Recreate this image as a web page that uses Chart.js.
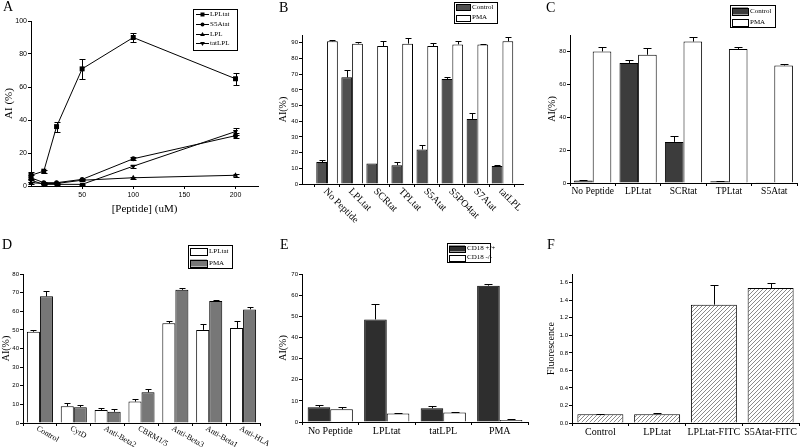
<!DOCTYPE html>
<html>
<head>
<meta charset="utf-8">
<script src="https://cdn.jsdelivr.net/npm/chart.js@4.4.0/dist/chart.umd.min.js"></script>
<style>
  html, body { margin: 0; padding: 0; background: #fff; }
  #wrap { position: relative; width: 800px; height: 447px; overflow: hidden; }
  #wrap canvas { position: absolute; left: 0; top: 0; }
  .tag { position: absolute; font-family: "Liberation Serif", serif; font-size: 14px; line-height: 14px; color: #000; }
</style>
</head>
<body>
<div id="wrap">
  <canvas id="cA" width="800" height="447"></canvas>
  <canvas id="cB" width="800" height="447"></canvas>
  <canvas id="cC" width="800" height="447"></canvas>
  <canvas id="cD" width="800" height="447"></canvas>
  <canvas id="cE" width="800" height="447"></canvas>
  <canvas id="cF" width="800" height="447"></canvas>
  <div class="tag" style="left:3px;top:0px">A</div>
  <div class="tag" style="left:279px;top:1px">B</div>
  <div class="tag" style="left:546px;top:1px">C</div>
  <div class="tag" style="left:2px;top:238px">D</div>
  <div class="tag" style="left:280px;top:238px">E</div>
  <div class="tag" style="left:547px;top:238px">F</div>
</div>
<script>
const SERIF = '"Liberation Serif", "Times New Roman", serif';
const SANS = '"Liberation Sans", Arial, sans-serif';

// Panel A - dose response
const doseUM = [0, 12.5, 25, 50, 100, 200];
const lplTatA = [6.5, 9, 36, 71, 90, 65];
const lplTatAErr = [2, 1, 3, 6, 3, 3.5];
const s5AtatA = [5, 2, 2, 4, 16.5, 30.5];
const s5AtatAErr = [1.5, 0.5, 0.5, 0.5, 0.8, 1.5];
const lplA = [2, 1.5, 1.5, 3.5, 5, 6.5];
const lplAErr = [0.5, 0.3, 0.3, 0.5, 0.5, 1];
const tatLplA = [3.5, 1, 1, 1, 12, 33];
const tatLplAErr = [1, 0.3, 0.3, 0.3, 1, 2];
const aYTicks = [0, 20, 40, 60, 80, 100];
const aXTicks = [50, 100, 150, 200];

// Panel B
const bLabels = ["No Peptide", "LPLtat", "SCRtat", "TPLtat", "S5Atat", "S5PO4tat", "S7Atat", "tatLPL"];
const bControl = [14, 68, 13, 12, 22, 67, 41.5, 11.5];
const bControlErr = [1.5, 5, 0, 2, 3, 1.5, 4, 0.5];
const bPMA = [91, 89.5, 88, 89.5, 88, 89, 89, 91];
const bPMAErr = [0.5, 1, 3, 3.5, 2, 2, 0.5, 2.5];
const bYTicks = [0, 10, 20, 30, 40, 50, 60, 70, 80, 90];

// Panel C
const cLabels = ["No Peptide", "LPLtat", "SCRtat", "TPLtat", "S5Atat"];
const cControl = [1.5, 73, 25, 1, 0.5];
const cControlErr = [0.5, 1.5, 3.5, 0.5, 0];
const cPMA = [80, 78, 86, 81.5, 71.5];
const cPMAErr = [2.5, 4, 3, 1.5, 1];
const cYTicks = [0, 20, 40, 60, 80];

// Panel D
const dLabels = ["Control", "CytD", "Anti-Beta2", "CBRM1/5", "Anti-Beta3", "Anti-Beta1", "Anti-HLA"];
const dLPLtat = [49, 9, 7, 11.5, 53.5, 50, 51];
const dLPLtatErr = [1, 2, 1, 1.5, 1, 3, 3.5];
const dPMA = [68, 8.5, 6, 16.5, 71.5, 65.5, 61];
const dPMAErr = [3, 1, 1.5, 1.5, 1, 0.3, 1.5];
const dYTicks = [0, 10, 20, 30, 40, 50, 60, 70, 80];

// Panel E
const eLabels = ["No Peptide", "LPLtat", "tatLPL", "PMA"];
const eWT = [7, 48.5, 6.5, 64.5];
const eWTErr = [1, 7.5, 1.2, 0.8];
const eKO = [6, 4, 4.5, 1];
const eKOErr = [1, 0.3, 0.3, 0.3];
const eYTicks = [0, 10, 20, 30, 40, 50, 60, 70];

// Panel F
const fLabels = ["Control", "LPLtat", "LPLtat-FITC", "S5Atat-FITC"];
const fValues = [0.1, 0.1, 1.35, 1.54];
const fErr = [0.005, 0.01, 0.22, 0.06];
const fYTicks = [0, 0.2, 0.4, 0.6, 0.8, 1.0, 1.2, 1.4, 1.6];

Chart.defaults.color = "#000";
Chart.defaults.font.family = SERIF;

function drawMarker(ctx, style, rot, x, y, r) {
    ctx.beginPath();
    if (style === "rect") {
        ctx.rect(x - r, y - r, 2 * r, 2 * r);
    } else if (style === "circle") {
        ctx.arc(x, y, r, 0, Math.PI * 2);
    } else {
        const s = rot ? -1 : 1;
        ctx.moveTo(x, y - s * r * 1.2);
        ctx.lineTo(x + r * 1.2, y + s * r * 0.8);
        ctx.lineTo(x - r * 1.2, y + s * r * 0.8);
        ctx.closePath();
    }
    ctx.fillStyle = "#000";
    ctx.fill();
}

// error bars from each dataset's "errors" array
const errorBars = {
    id: "errorBars",
    afterDatasetsDraw(chart, args, o) {
        const ctx = chart.ctx;
        const ys = chart.scales.y;
        ctx.save();
        ctx.strokeStyle = "#000";
        ctx.lineWidth = 1;
        chart.data.datasets.forEach((ds, di) => {
            if (!ds.errors) return;
            const meta = chart.getDatasetMeta(di);
            meta.data.forEach((el, i) => {
                const e = ds.errors[i];
                if (!e) return;
                const v = meta.controller.getParsed(i).y;
                const x = Math.round(el.x) + 0.5;
                const top = Math.round(ys.getPixelForValue(v + e)) + 0.5;
                const bot = o.both ? Math.round(ys.getPixelForValue(v - e)) + 0.5 : el.y;
                ctx.beginPath();
                ctx.moveTo(x, bot);
                ctx.lineTo(x, top);
                ctx.moveTo(x - o.cap, top);
                ctx.lineTo(x + o.cap, top);
                if (o.both) {
                    ctx.moveTo(x - o.cap, bot);
                    ctx.lineTo(x + o.cap, bot);
                }
                ctx.stroke();
            });
        });
        ctx.restore();
    }
};

// framed legend like the original plots
const boxLegend = {
    id: "boxLegend",
    afterDraw(chart, args, o) {
        if (!o.box) return;
        const ctx = chart.ctx;
        const b = o.box;
        ctx.save();
        ctx.strokeStyle = "#000";
        ctx.lineWidth = 1;
        ctx.strokeRect(b[0] + 0.5, b[1] + 0.5, b[2], b[3]);
        ctx.font = o.size + "px " + SERIF;
        ctx.textBaseline = "middle";
        chart.data.datasets.forEach((ds, i) => {
            const y = o.rows[i];
            if (o.mode === "line") {
                ctx.beginPath();
                ctx.moveTo(o.sx, y + 0.5);
                ctx.lineTo(o.sx + o.sw, y + 0.5);
                ctx.stroke();
                drawMarker(ctx, ds.pointStyle, ds.pointRotation || 0, o.sx + o.sw / 2, y + 0.5, 2);
            } else {
                ctx.fillStyle = ds.backgroundColor;
                ctx.fillRect(o.sx, y - o.sh / 2, o.sw, o.sh);
                ctx.strokeRect(o.sx + 0.5, Math.round(y - o.sh / 2) + 0.5, o.sw, o.sh);
            }
            ctx.fillStyle = "#000";
            ctx.fillText(ds.label, o.tx, y);
        });
        ctx.restore();
    }
};

// category names slanted downwards to the right
const slantLabels = {
    id: "slantLabels",
    afterDraw(chart, args, o) {
        if (!o.angle) return;
        const ctx = chart.ctx;
        const xs = chart.scales.x;
        ctx.save();
        ctx.font = o.size + "px " + SERIF;
        ctx.fillStyle = "#000";
        ctx.textAlign = "left";
        ctx.textBaseline = "middle";
        chart.data.labels.forEach((t, i) => {
            ctx.save();
            ctx.translate(xs.getPixelForValue(i) + o.dx, chart.chartArea.bottom + o.dy);
            ctx.rotate(o.angle * Math.PI / 180);
            ctx.fillText(t, 0, 0);
            ctx.restore();
        });
        ctx.restore();
    }
};

function hatch() {
    const c = document.createElement("canvas");
    c.width = 4;
    c.height = 4;
    const g = c.getContext("2d");
    g.fillStyle = "#fff";
    g.fillRect(0, 0, 4, 4);
    g.strokeStyle = "#8a8a8a";
    g.lineWidth = 1;
    g.beginPath();
    g.moveTo(0, 4); g.lineTo(4, 0);
    g.moveTo(-1, 1); g.lineTo(1, -1);
    g.moveTo(3, 5); g.lineTo(5, 3);
    g.stroke();
    return g.createPattern(c, "repeat");
}

const axisLine = { display: true, color: "#000", width: 1 };

function yAxis(max, ticks, width, title, titleSize, tickSize, fmt) {
    return {
        type: "linear", min: 0, max: max,
        afterFit: s => { s.width = width; },
        afterBuildTicks: s => { s.ticks = ticks.map(v => ({ value: v })); },
        border: axisLine,
        grid: { display: true, drawOnChartArea: false, tickLength: 3, color: "#000" },
        ticks: { font: { family: SANS, size: tickSize }, padding: 1, callback: fmt || (v => v) },
        title: { display: true, text: title, font: { family: SERIF, size: titleSize }, padding: 0 }
    };
}

function xCat(height, size, show) {
    return {
        type: "category", offset: true,
        afterFit: s => { s.height = height; },
        border: axisLine,
        grid: { display: true, drawOnChartArea: false, offset: true, tickLength: 3, color: "#000" },
        ticks: { display: show, font: { family: SERIF, size: size }, padding: 0, maxRotation: 0, autoSkip: false }
    };
}

function options(area, yw, xh, scales, plugins) {
    return {
        responsive: false, animation: false, devicePixelRatio: 1,
        layout: { padding: { left: area[0] - yw, top: area[1], right: 800 - area[2], bottom: 447 - area[3] - xh } },
        scales: scales,
        plugins: Object.assign({ legend: { display: false }, tooltip: { enabled: false } }, plugins)
    };
}

function barSet(label, values, errors, color, pct) {
    return {
        label: label, data: values, errors: errors,
        backgroundColor: color, borderColor: "#000", borderWidth: 1,
        categoryPercentage: pct, barPercentage: 1
    };
}

const allPlugins = [errorBars, boxLegend, slantLabels];

// ---------- A ----------
function pts(ys) { return doseUM.map((x, i) => ({ x: x, y: ys[i] })); }
const aSeries = [
    { label: "LPLtat", data: pts(lplTatA), errors: lplTatAErr, pointStyle: "rect", pointRadius: 3.5 },
    { label: "S5Atat", data: pts(s5AtatA), errors: s5AtatAErr, pointStyle: "circle", pointRadius: 2.5 },
    { label: "LPL", data: pts(lplA), errors: lplAErr, pointStyle: "triangle", pointRadius: 3 },
    { label: "tatLPL", data: pts(tatLplA), errors: tatLplAErr, pointStyle: "triangle", pointRotation: 180, pointRadius: 3 }
].map(d => Object.assign({
    borderColor: "#000", borderWidth: 1, backgroundColor: "#000",
    pointBackgroundColor: "#000", pointBorderColor: "#000", pointBorderWidth: 0,
    tension: 0, fill: false, clip: 10
}, d));

new Chart(document.getElementById("cA"), {
    type: "line",
    data: { datasets: aSeries },
    options: options([31, 21, 258, 186], 28, 30, {
        x: {
            type: "linear", min: 0, max: 222,
            afterFit: s => { s.height = 30; },
            afterBuildTicks: s => { s.ticks = aXTicks.map(v => ({ value: v })); },
            border: axisLine,
            grid: { display: true, drawOnChartArea: false, tickLength: 3, color: "#000" },
            ticks: { font: { family: SANS, size: 7 }, padding: 2, maxRotation: 0 },
            title: { display: true, text: "[Peptide] (uM)", font: { family: SERIF, size: 11 }, padding: 0 }
        },
        y: yAxis(100, aYTicks, 28, "AI (%)", 11, 7)
    }, {
        errorBars: { cap: 3, both: true },
        boxLegend: { mode: "line", box: [193, 9, 44, 41], rows: [14, 24, 34, 43], sx: 196, sw: 13, tx: 210, size: 7 }
    }),
    plugins: allPlugins
});

// ---------- B ----------
function idx(values) { return values.map((v, i) => ({ x: i, y: v })); }
new Chart(document.getElementById("cB"), {
    type: "bar",
    data: {
        labels: bLabels,
        datasets: [
            barSet("Control", idx(bControl), bControlErr, "#505050", 0.86),
            barSet("PMA", idx(bPMA), bPMAErr, "#fff", 0.86)
        ]
    },
    options: options([302, 35, 523, 184], 25, 50, {
        x: {
            type: "linear", min: -1, max: 7.82, offset: false,
            afterFit: s => { s.height = 50; },
            afterBuildTicks: s => { s.ticks = bLabels.map((_, i) => ({ value: i })); },
            border: axisLine,
            grid: { display: true, drawOnChartArea: false, offset: true, tickLength: 3, color: "#000" },
            ticks: { display: false }
        },
        y: yAxis(95, bYTicks, 25, "AI(%)", 10, 6)
    }, {
        errorBars: { cap: 3, both: false },
        boxLegend: { mode: "bar", box: [454, 2, 43, 21], rows: [7, 17.5], sx: 456, sw: 14, sh: 6, tx: 472, size: 7 },
        slantLabels: { angle: 45, dx: -2, dy: 6, size: 10 }
    }),
    plugins: allPlugins
});

// ---------- C ----------
new Chart(document.getElementById("cC"), {
    type: "bar",
    data: {
        labels: cLabels,
        datasets: [
            barSet("Control", cControl, cControlErr, "#3c3c3c", 0.82),
            barSet("PMA", cPMA, cPMAErr, "#fff", 0.82)
        ]
    },
    options: options([570, 35, 797, 183], 24, 30, {
        x: xCat(30, 9.5, true),
        y: yAxis(90, cYTicks, 24, "AI(%)", 10, 6)
    }, {
        errorBars: { cap: 4, both: false },
        boxLegend: { mode: "bar", box: [730, 5, 45, 22], rows: [11, 22], sx: 732, sw: 16, sh: 7, tx: 750, size: 7 }
    }),
    plugins: allPlugins
});

// ---------- D ----------
new Chart(document.getElementById("cD"), {
    type: "bar",
    data: {
        labels: dLabels,
        datasets: [
            barSet("LPLtat", dLPLtat, dLPLtatErr, "#fff", 0.77),
            barSet("PMA", dPMA, dPMAErr, "#777777", 0.77)
        ]
    },
    options: options([23, 274, 260, 423], 23, 20, {
        x: xCat(20, 8, false),
        y: yAxis(80, dYTicks, 23, "AI(%)", 10, 6)
    }, {
        errorBars: { cap: 3, both: false },
        boxLegend: { mode: "bar", box: [188, 245, 44, 23], rows: [251, 263], sx: 190, sw: 17, sh: 7, tx: 209, size: 7 },
        slantLabels: { angle: 30, dx: -3, dy: 5, size: 8 }
    }),
    plugins: allPlugins
});

// ---------- E ----------
new Chart(document.getElementById("cE"), {
    type: "bar",
    data: {
        labels: eLabels,
        datasets: [
            barSet("CD18 +/+", eWT, eWTErr, "#2e2e2e", 0.8),
            barSet("CD18 -/-", eKO, eKOErr, "#fff", 0.8)
        ]
    },
    options: options([302, 274, 528, 422], 25, 22, {
        x: xCat(22, 10, true),
        y: yAxis(70, eYTicks, 25, "AI(%)", 10, 6)
    }, {
        errorBars: { cap: 4, both: false },
        boxLegend: { mode: "bar", box: [447, 243, 43, 19], rows: [248.5, 257.5], sx: 449, sw: 16, sh: 6, tx: 467, size: 7 }
    }),
    plugins: allPlugins
});

// ---------- F ----------
new Chart(document.getElementById("cF"), {
    type: "bar",
    data: {
        labels: fLabels,
        datasets: [barSet("Fluorescence", fValues, fErr, hatch(), 0.81)]
    },
    options: options([572, 274, 799, 423], 27, 22, {
        x: xCat(22, 10, true),
        y: yAxis(1.7, fYTicks, 27, "Fluorescence", 10, 6, v => v.toFixed(1))
    }, {
        errorBars: { cap: 4, both: false }
    }),
    plugins: allPlugins
});
</script>
</body>
</html>
